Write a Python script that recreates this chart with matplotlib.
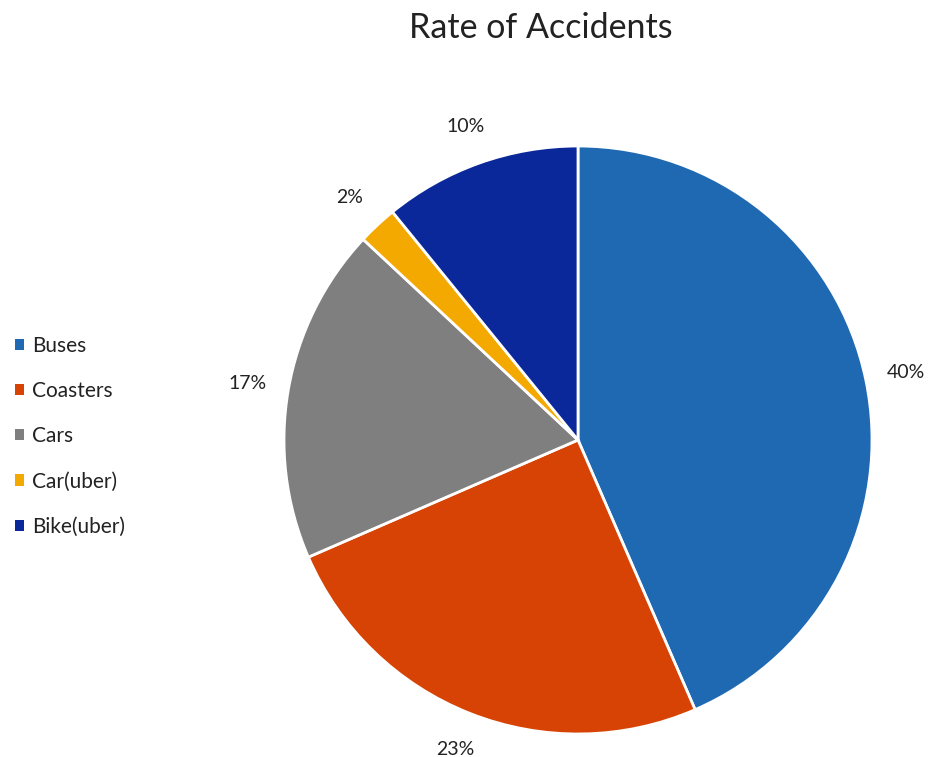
import numpy as np
import matplotlib.pyplot as plt
from matplotlib.patches import Patch

categories = ['Buses', 'Coasters', 'Cars', 'Car(uber)', 'Bike(uber)']
values = [40, 23, 17, 2, 10]
colors = ['#1f69b2', '#d64304', '#7f7f7f', '#f4a900', '#0a2899']

plt.rcParams['font.family'] = ['Lato', 'DejaVu Sans']

fig = plt.figure(figsize=(9.35, 7.57), dpi=100)
ax = fig.add_axes([284 / 935, 23 / 757, 588 / 935, 588 / 757])

wedges, texts = ax.pie(values, colors=colors, startangle=90, counterclock=False,
                       radius=1.0, wedgeprops=dict(edgecolor='white', linewidth=2))
# data labels just outside each slice
for w, v in zip(wedges, values):
    ang = np.deg2rad((w.theta1 + w.theta2) / 2)
    ax.text(1.14 * np.cos(ang), 1.13 * np.sin(ang), f'{v}%', ha='center', va='center',
            fontsize=14, color='#222222')
ax.set_xlim(-1, 1)
ax.set_ylim(-1, 1)
ax.set_aspect('equal')

fig.text(541 / 935, 1 - 28 / 757, 'Rate of Accidents', ha='center', va='center',
         fontsize=24.5, color='#222222')

handles = [Patch(facecolor=c, edgecolor='none') for c in colors]
fig.legend(handles, categories, loc='upper left', bbox_to_anchor=(-0.004, 1 - 317 / 757),
           frameon=False, handlelength=0.45, handleheight=0.45, handletextpad=0.35,
           labelspacing=1.21, fontsize=15, labelcolor='#222222')

fig.savefig('out.png', dpi=100)
